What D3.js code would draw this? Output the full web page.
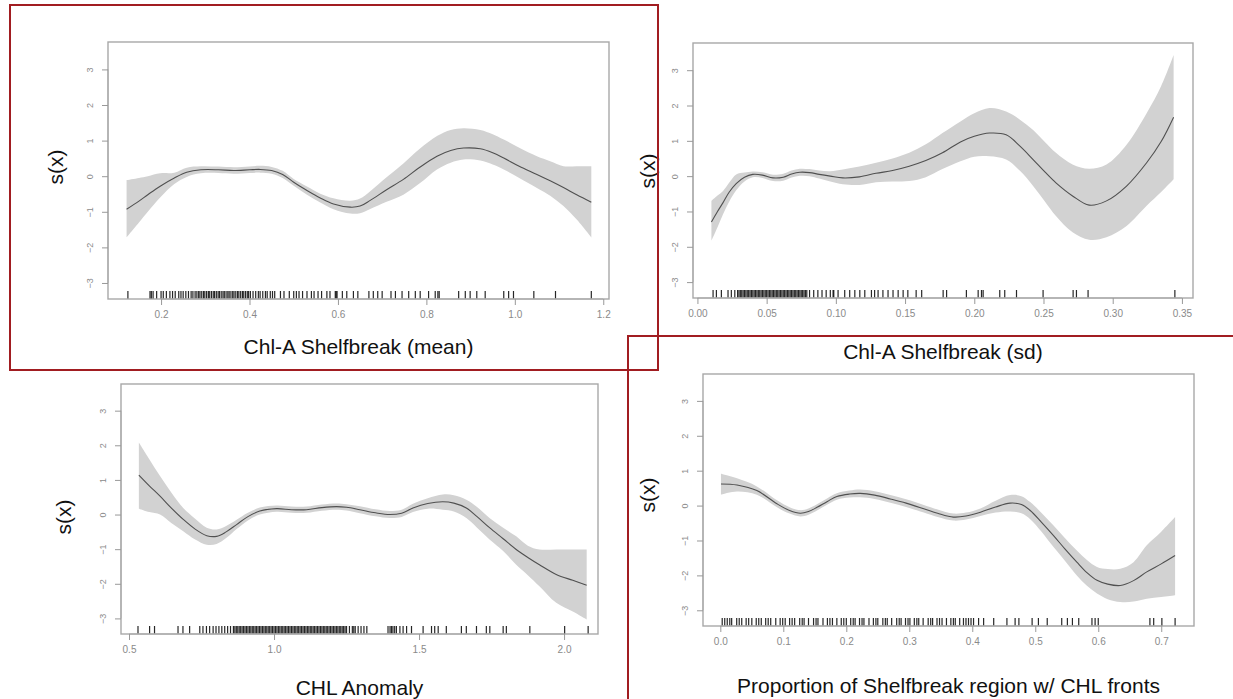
<!DOCTYPE html>
<html>
<head>
<meta charset="utf-8">
<script src="https://cdn.jsdelivr.net/npm/d3@7"></script>
<style>
  body { margin: 0; background: #fff; }
  svg { display: block; font-family: "Liberation Sans", Arial, sans-serif; }
</style>
</head>
<body>
<div id="chart"></div>
<script>
// ======================================================
// --- DATA
// ======================================================

const yTicks = [-3, -2, -1, 0, 1, 2, 3];

// Panel 1: Chl-A Shelfbreak (mean)
const x1 = [0.122,0.15,0.17,0.198,0.23,0.258,0.29,0.33,0.364,0.4,0.424,0.45,0.475,0.5,0.53,0.56,0.59,0.628,0.65,0.673,0.71,0.748,0.785,0.824,0.855,0.884,0.922,0.95,0.975,1.01,1.05,1.08,1.11,1.14,1.173];
const fit1 = [-0.93,-0.70,-0.52,-0.28,-0.05,0.11,0.18,0.18,0.16,0.18,0.19,0.16,0.05,-0.17,-0.40,-0.61,-0.78,-0.87,-0.84,-0.68,-0.38,-0.09,0.25,0.56,0.72,0.79,0.77,0.66,0.51,0.28,0.05,-0.13,-0.32,-0.52,-0.73];
const hi1 = [-0.11,-0.05,0.0,0.08,0.10,0.24,0.28,0.27,0.25,0.27,0.29,0.26,0.15,-0.08,-0.29,-0.49,-0.62,-0.69,-0.63,-0.42,-0.03,0.36,0.77,1.13,1.30,1.35,1.30,1.18,1.03,0.80,0.56,0.42,0.28,0.28,0.28];
const lo1 = [-1.72,-1.30,-1.00,-0.60,-0.22,-0.02,0.08,0.09,0.07,0.09,0.10,0.07,-0.05,-0.27,-0.52,-0.74,-0.93,-1.05,-1.04,-0.92,-0.72,-0.52,-0.20,0.19,0.38,0.47,0.44,0.33,0.19,-0.05,-0.33,-0.55,-0.84,-1.22,-1.72];
const rug1 = [0.125,0.175,0.178,0.182,0.19,0.2,0.205,0.212,0.22,0.226,0.232,0.24,0.245,0.25,0.256,0.262,0.268,0.272,0.277,
  0.281,0.285,0.288,0.292,0.296,0.299,0.303,0.307,0.31,0.314,0.318,0.321,0.325,0.329,0.332,0.336,0.34,0.343,0.347,0.351,0.354,0.358,0.362,0.365,0.369,0.373,0.376,0.38,0.384,0.387,0.391,0.395,0.398,
  0.402,0.408,0.414,0.42,0.424,0.43,0.436,0.44,0.447,0.452,0.457,0.47,0.478,0.49,0.5,0.506,0.512,0.52,0.53,0.54,0.546,0.555,0.563,0.575,0.582,0.594,0.596,0.598,
  0.61,0.62,0.635,0.645,0.67,0.68,0.69,0.7,0.72,0.73,0.745,0.76,0.775,0.786,0.805,0.82,0.826,0.829,0.873,0.888,0.899,0.914,0.933,0.975,0.986,0.997,1.043,1.092,1.173];
const xt1 = [0.2, 0.4, 0.6, 0.8, 1.0, 1.2];

// Panel 2: Chl-A Shelfbreak (sd)
const x2 = [0.0101,0.0145,0.0185,0.023,0.028,0.034,0.040,0.047,0.0546,0.062,0.068,0.074,0.081,0.088,0.096,0.105,0.117,0.129,0.141,0.153,0.165,0.177,0.19,0.2,0.211,0.223,0.233,0.2425,0.251,0.259,0.271,0.283,0.2955,0.31,0.3245,0.335,0.344];
const fit2 = [-1.30,-1.0,-0.75,-0.45,-0.21,-0.03,0.05,0.03,-0.05,-0.03,0.06,0.11,0.10,0.05,0.0,-0.05,-0.02,0.08,0.16,0.28,0.44,0.66,0.97,1.13,1.22,1.17,0.85,0.47,0.12,-0.19,-0.56,-0.82,-0.70,-0.28,0.38,0.98,1.67];
const hi2 = [-0.70,-0.55,-0.42,-0.18,0.05,0.10,0.13,0.11,0.04,0.07,0.16,0.21,0.20,0.16,0.14,0.19,0.27,0.38,0.50,0.66,0.90,1.22,1.55,1.78,1.93,1.83,1.60,1.31,0.97,0.66,0.33,0.21,0.33,0.89,1.78,2.55,3.43];
const lo2 = [-1.83,-1.45,-1.08,-0.72,-0.40,-0.15,-0.03,-0.05,-0.14,-0.13,-0.04,0.01,0.0,-0.07,-0.15,-0.23,-0.25,-0.17,-0.15,-0.14,-0.03,0.20,0.42,0.55,0.56,0.47,0.15,-0.28,-0.72,-1.13,-1.59,-1.80,-1.73,-1.41,-0.84,-0.45,-0.09];
const rug2 = [0.0113,0.0137,0.0173,0.0221,0.0245,0.027,
  0.029,0.030,0.031,0.032,0.033,0.034,0.035,0.036,0.037,0.038,0.039,0.040,0.041,0.042,0.043,0.044,0.045,0.046,0.047,0.048,0.049,0.050,0.051,0.052,0.053,0.054,0.055,0.056,0.057,0.058,0.059,0.060,
  0.061,0.062,0.063,0.064,0.065,0.066,0.067,0.068,0.069,0.070,0.071,0.072,0.073,0.074,0.075,0.076,0.077,0.078,0.079,0.081,
  0.084,0.087,0.09,0.093,0.096,0.098,0.0985,0.1016,0.1064,0.11,0.1137,0.1173,0.1209,0.1257,0.128,0.1305,0.134,0.1377,0.1413,0.145,0.1486,0.152,0.158,0.162,
  0.1775,0.18,0.1943,0.2028,0.2052,0.2064,0.2184,0.222,0.2305,0.2497,0.2714,0.2738,0.2822,0.3449];
const xt2 = [0.0, 0.05, 0.10, 0.15, 0.20, 0.25, 0.30, 0.35];

// Panel 3: CHL Anomaly
const x3 = [0.534,0.57,0.607,0.647,0.687,0.728,0.768,0.802,0.835,0.871,0.91,0.951,1.009,1.06,1.112,1.165,1.215,1.25,1.296,1.35,1.399,1.44,1.479,1.53,1.582,1.62,1.663,1.70,1.743,1.79,1.835,1.875,1.915,1.973,2.03,2.078];
const fit3 = [1.14,0.83,0.53,0.18,-0.14,-0.42,-0.61,-0.63,-0.50,-0.29,-0.06,0.10,0.17,0.14,0.14,0.20,0.23,0.21,0.14,0.05,0.0,0.04,0.19,0.32,0.37,0.33,0.19,-0.06,-0.38,-0.70,-1.01,-1.24,-1.45,-1.73,-1.90,-2.04];
const hi3 = [2.08,1.60,1.11,0.62,0.19,-0.12,-0.38,-0.43,-0.33,-0.15,0.05,0.20,0.26,0.23,0.23,0.29,0.32,0.30,0.24,0.15,0.10,0.14,0.31,0.47,0.58,0.56,0.43,0.22,-0.10,-0.38,-0.63,-0.90,-1.01,-1.01,-1.01,-1.01];
const lo3 = [0.17,0.07,0.0,-0.25,-0.48,-0.72,-0.87,-0.85,-0.68,-0.42,-0.17,0.0,0.08,0.05,0.05,0.11,0.14,0.12,0.04,-0.05,-0.10,-0.07,0.07,0.17,0.14,0.09,-0.10,-0.38,-0.72,-1.05,-1.45,-1.75,-2.07,-2.55,-2.80,-3.03];
const rug3 = [0.531,0.571,0.588,0.669,0.686,0.709,0.744,0.755,0.767,0.778,0.79,
  0.80,0.81,0.82,0.83,0.84,0.85,0.86,0.865,0.87,0.875,0.88,0.885,0.89,0.895,0.9,0.905,0.91,0.915,0.92,0.925,0.93,0.935,0.94,0.945,0.95,0.955,0.96,0.965,0.97,0.975,0.98,0.985,0.99,0.995,1.0,1.005,1.01,1.015,1.02,1.025,1.03,1.035,1.04,1.045,1.05,1.055,1.06,1.065,1.07,1.075,1.08,1.085,1.09,1.095,1.1,1.105,1.11,1.115,1.12,1.125,1.13,1.135,1.14,1.145,1.15,1.155,1.16,1.165,1.17,1.175,1.18,1.185,1.19,1.195,1.2,1.205,1.21,1.215,1.22,1.225,1.23,1.235,1.24,1.245,1.25,1.26,1.27,1.275,1.28,1.29,
  1.30,1.31,1.32,1.393,1.4,1.405,1.41,1.416,1.422,1.434,1.445,1.457,1.474,1.514,1.543,1.554,1.566,1.594,1.646,1.663,1.698,1.732,1.744,1.79,1.801,1.882,2.002,2.083];
const xt3 = [0.5, 1.0, 1.5, 2.0];

// Panel 4: Proportion of Shelfbreak region w/ CHL fronts
const x4 = [0.001,0.0265,0.058,0.09,0.11,0.127,0.14,0.1535,0.17,0.185,0.205,0.222,0.245,0.27,0.295,0.323,0.345,0.370,0.39,0.413,0.437,0.46,0.478,0.492,0.51,0.529,0.547,0.566,0.582,0.598,0.615,0.635,0.656,0.677,0.70,0.722];
const fit4 = [0.62,0.59,0.43,0.05,-0.14,-0.22,-0.17,-0.05,0.12,0.26,0.33,0.35,0.30,0.19,0.07,-0.09,-0.22,-0.33,-0.30,-0.19,-0.04,0.07,0.03,-0.14,-0.48,-0.86,-1.24,-1.62,-1.92,-2.14,-2.25,-2.29,-2.15,-1.90,-1.67,-1.43];
const hi4 = [0.91,0.78,0.55,0.15,-0.05,-0.13,-0.08,0.04,0.21,0.35,0.43,0.46,0.41,0.30,0.18,0.02,-0.11,-0.23,-0.20,-0.08,0.14,0.30,0.27,0.10,-0.21,-0.57,-0.93,-1.29,-1.56,-1.76,-1.82,-1.81,-1.62,-1.14,-0.75,-0.33];
const lo4 = [0.31,0.40,0.31,-0.05,-0.23,-0.31,-0.26,-0.14,0.03,0.17,0.23,0.24,0.19,0.08,-0.04,-0.20,-0.33,-0.43,-0.40,-0.30,-0.20,-0.17,-0.22,-0.39,-0.75,-1.19,-1.58,-2.00,-2.30,-2.52,-2.68,-2.76,-2.75,-2.67,-2.62,-2.57];
const rug4 = [0.003,0.007,0.011,0.015,0.018,0.026,0.03,0.034,0.041,0.045,0.05,0.057,0.061,0.065,0.072,0.076,0.08,0.088,0.095,0.099,0.103,0.11,0.114,0.118,0.126,0.13,0.133,0.14,0.148,0.152,0.155,0.163,0.17,0.174,0.178,0.185,0.192,0.196,0.2,0.207,0.211,0.214,0.221,0.225,0.228,0.236,0.243,0.247,0.25,0.258,0.262,0.265,0.272,0.28,0.284,0.287,0.294,0.298,0.301,0.308,0.312,0.315,0.322,0.33,0.334,0.337,0.344,0.348,0.352,0.359,0.366,0.37,0.373,0.38,0.386,0.39,0.394,0.398,0.402,
  0.41,0.418,0.434,0.455,0.468,0.474,0.495,0.505,0.519,0.542,0.551,0.559,0.569,0.59,0.595,0.6,0.682,0.688,0.701,0.722];
const xt4 = [0.0, 0.1, 0.2, 0.3, 0.4, 0.5, 0.6, 0.7];

// ======================================================
// --- LAYOUT
// ======================================================

const W = 1233, H = 699;
const yDomain = [-3.45, 3.77];

const panels = [
  { x: x1, fit: fit1, hi: hi1, lo: lo1, rug: rug1, ticks: xt1, fmt: d3.format(".1f"),
    left: 108, top: 42, right: 609, bottom: 299, xDomain: [0.08, 1.213],
    title: "Chl-A Shelfbreak (mean)", titleY: 354, sx: [56, 167] },
  { x: x2, fit: fit2, hi: hi2, lo: lo2, rug: rug2, ticks: xt2, fmt: d3.format(".2f"),
    left: 693, top: 43, right: 1193, bottom: 298, xDomain: [-0.0032, 0.358],
    title: "Chl-A Shelfbreak (sd)", titleY: 359, sx: [648, 171] },
  { x: x3, fit: fit3, hi: hi3, lo: lo3, rug: rug3, ticks: xt3, fmt: d3.format(".1f"),
    left: 121, top: 384, right: 598, bottom: 634, xDomain: [0.4724, 2.117],
    title: "CHL Anomaly", titleY: 695, sx: [64, 517] },
  { x: x4, fit: fit4, hi: hi4, lo: lo4, rug: rug4, ticks: xt4, fmt: d3.format(".1f"),
    left: 703, top: 374, right: 1194, bottom: 626, xDomain: [-0.0275, 0.752],
    title: "Proportion of Shelfbreak region w/ CHL fronts", titleY: 693, sx: [648, 495] }
];

const svg = d3.select("#chart")
  .append("svg")
  .attr("width", W)
  .attr("height", H);

// ======================================================
// --- PANELS
// ======================================================

panels.forEach(p => {
  const x = d3.scaleLinear().domain(p.xDomain).range([p.left, p.right]);
  const y = d3.scaleLinear().domain(yDomain).range([p.bottom, p.top]);
  const g = svg.append("g");

  const rows = p.x.map((v, i) => ({ x: v, fit: p.fit[i], hi: p.hi[i], lo: p.lo[i] }));

  // confidence band
  g.append("path")
    .datum(rows)
    .attr("fill", "#d2d2d2")
    .attr("d", d3.area()
      .x(d => x(d.x))
      .y0(d => y(d.lo))
      .y1(d => y(d.hi))
      .curve(d3.curveCatmullRom));

  // smooth
  g.append("path")
    .datum(rows)
    .attr("fill", "none")
    .attr("stroke", "#505050")
    .attr("stroke-width", 1.1)
    .attr("d", d3.line()
      .x(d => x(d.x))
      .y(d => y(d.fit))
      .curve(d3.curveCatmullRom));

  // rug
  g.selectAll(".rug")
    .data(p.rug)
    .join("line")
    .attr("x1", d => x(d))
    .attr("x2", d => x(d))
    .attr("y1", p.bottom)
    .attr("y2", p.bottom - 8)
    .attr("stroke", "#000")
    .attr("stroke-opacity", 0.85)
    .attr("stroke-width", 1.2);

  // box
  g.append("rect")
    .attr("x", p.left)
    .attr("y", p.top)
    .attr("width", p.right - p.left)
    .attr("height", p.bottom - p.top)
    .attr("fill", "none")
    .attr("stroke", "#a8a8a8")
    .attr("stroke-width", 1.4);

  // x axis
  const xa = g.append("g")
    .attr("transform", `translate(0,${p.bottom})`)
    .call(d3.axisBottom(x).tickValues(p.ticks).tickFormat(p.fmt).tickSize(6).tickPadding(6));
  xa.select(".domain")
    .attr("d", `M${x(p.ticks[0])},0H${x(p.ticks[p.ticks.length - 1])}`)
    .attr("stroke", "#a8a8a8");
  xa.selectAll(".tick line").attr("stroke", "#999");
  xa.selectAll("text")
    .attr("fill", "#8a8a8a")
    .style("font-size", "10px")
    .style("font-family", "Liberation Sans, Arial, sans-serif");

  // y axis (labels parallel to the axis, as in R)
  const ya = g.append("g")
    .attr("transform", `translate(${p.left},0)`)
    .call(d3.axisLeft(y).tickValues(yTicks).tickSize(6).tickFormat(d3.format("d")));
  ya.select(".domain")
    .attr("d", `M0,${y(-3)}V${y(3)}`)
    .attr("stroke", "#a8a8a8");
  ya.selectAll(".tick line").attr("stroke", "#999");
  ya.selectAll("text")
    .attr("x", 0)
    .attr("y", 0)
    .attr("dy", "0.35em")
    .attr("text-anchor", "middle")
    .attr("transform", "translate(-18,0) rotate(-90)")
    .attr("fill", "#8a8a8a")
    .style("font-size", "9px")
    .style("font-family", "Liberation Sans, Arial, sans-serif");

  // titles
  g.append("text")
    .attr("x", (p.left + p.right) / 2)
    .attr("y", p.titleY)
    .attr("text-anchor", "middle")
    .attr("font-size", "21px")
    .attr("fill", "#111")
    .text(p.title);

  g.append("text")
    .attr("transform", `translate(${p.sx[0]},${p.sx[1]}) rotate(-90)`)
    .attr("text-anchor", "middle")
    .attr("dy", "0.35em")
    .attr("font-size", "21px")
    .attr("fill", "#111")
    .text("s(x)");
});

// ======================================================
// --- RED HIGHLIGHT FRAMES
// ======================================================

const red = "#a11d21";
svg.append("rect")
  .attr("x", 10).attr("y", 5)
  .attr("width", 648).attr("height", 365)
  .attr("fill", "none")
  .attr("stroke", red)
  .attr("stroke-width", 2);

svg.append("path")
  .attr("d", "M1233,336H628V699")
  .attr("fill", "none")
  .attr("stroke", red)
  .attr("stroke-width", 2);
</script>
</body>
</html>
